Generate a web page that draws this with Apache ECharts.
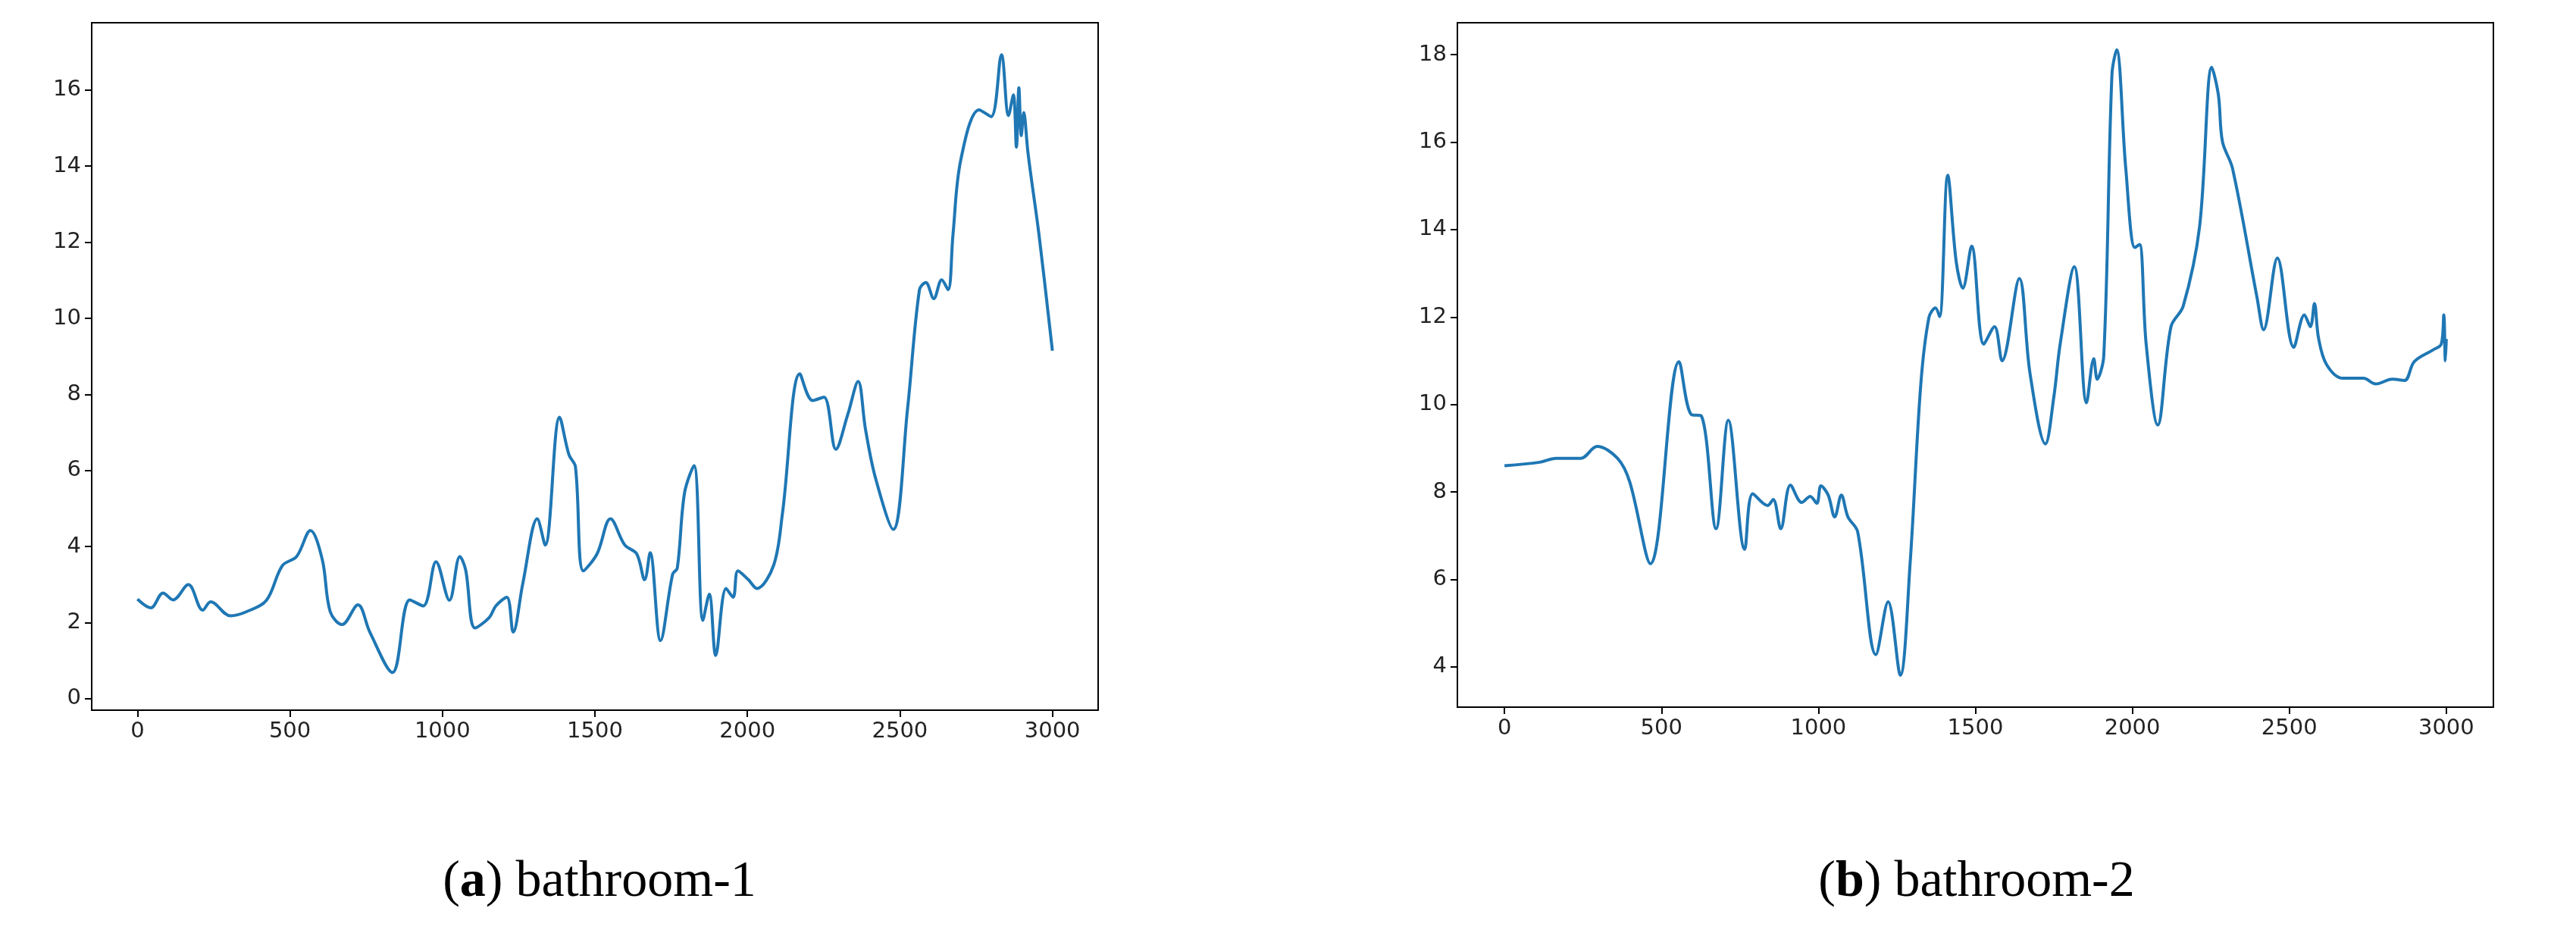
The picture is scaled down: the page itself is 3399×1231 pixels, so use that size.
<!DOCTYPE html>
<html>
<head>
<meta charset="utf-8">
<script src="https://cdn.jsdelivr.net/npm/echarts@6/dist/echarts.min.js"></script>
<style>
  html, body { margin: 0; padding: 0; background: #fff; }
  #chart { width: 3399px; height: 1231px; }
</style>
</head>
<body>
<div id="chart"></div>
<script>
// bathroom-1 readings
var x1 = [0,44,84,117,167,214,240,305,358,423,475,522,567,606,632,671,723,762,836,893,937,979,1023,1057,1076,1107,1154,1175,1211,1232,1264,1311,1337,1384,1415,1436,1462,1507,1551,1598,1637,1663,1681,1715,1755,1770,1794,1825,1854,1875,1896,1930,1953,1969,2003,2031,2086,2115,2172,2214,2251,2290,2329,2363,2387,2420,2478,2525,2564,2585,2611,2637,2658,2674,2700,2760,2799,2833,2856,2872,2882,2890,2898,2906,2919,2930,2956,3000];
var y1 = [2.62,2.39,2.78,2.6,3.0,2.33,2.55,2.18,2.29,2.59,3.5,3.74,4.42,3.66,2.29,1.95,2.47,1.75,0.69,2.6,2.44,3.6,2.59,3.74,3.39,1.86,2.14,2.44,2.67,1.75,3.05,4.73,4.04,7.4,6.41,6.1,3.36,3.81,4.73,4.04,3.81,3.13,3.84,1.53,3.28,3.43,5.42,6.13,2.06,2.75,1.14,2.9,2.67,3.36,3.13,2.9,3.51,4.88,8.54,7.84,7.93,6.56,7.47,8.34,7.09,5.8,4.45,7.62,10.75,10.94,10.52,11.01,10.75,12.2,14.18,15.48,15.3,16.93,15.33,15.87,14.5,16.06,14.8,15.41,14.42,13.73,12.2,9.15];
// bathroom-2 readings
var x2 = [0,112,164,243,295,360,399,465,556,595,627,674,713,765,791,838,856,880,911,947,974,995,1008,1031,1052,1073,1094,1125,1183,1222,1261,1292,1326,1352,1373,1386,1412,1439,1460,1488,1527,1561,1585,1640,1674,1723,1750,1770,1815,1854,1877,1888,1909,1935,1950,1979,2008,2023,2044,2081,2123,2162,2214,2253,2274,2287,2319,2397,2418,2462,2514,2548,2567,2580,2593,2619,2671,2736,2775,2828,2867,2898,2958,2984,2992,2997,3000];
var y2 = [8.6,8.68,8.77,8.77,9.04,8.77,8.23,6.36,10.98,9.77,9.74,7.16,9.64,6.69,7.96,7.69,7.83,7.16,8.16,7.76,7.9,7.74,8.14,7.93,7.43,7.93,7.43,7.09,4.28,5.49,3.81,6.36,10.45,11.99,12.21,12.01,15.24,13.26,12.66,13.62,11.38,11.78,11.0,12.88,10.71,9.1,10.18,11.38,13.15,10.04,11.05,10.58,11.12,17.55,18.11,15.4,13.59,13.66,11.38,9.53,11.78,12.25,14.06,17.71,17.08,16.01,15.4,12.45,11.71,13.35,11.31,12.05,11.78,12.31,11.52,10.91,10.6,10.6,10.47,10.58,10.55,10.98,11.25,11.38,12.05,11.0,11.5];
var captions = ['bathroom-1', 'bathroom-2'];
var xTicks = [0, 500, 1000, 1500, 2000, 2500, 3000];

function pairs(xs, ys) {
  return xs.map(function (x, i) { return [x, ys[i]]; });
}

var tickLabel = { color: '#222', fontSize: 29, fontFamily: 'DejaVu Sans', margin: 14, formatter: function (v) { return String(v); } };
function xAx(idx) {
  return {
    type: 'value', gridIndex: idx, min: -150, max: 3150,
    axisLine: { show: false, onZero: false }, splitLine: { show: false },
    axisTick: { show: true, length: 9, lineStyle: { color: '#000', width: 2 }, customValues: xTicks },
    axisLabel: Object.assign({}, tickLabel, { customValues: xTicks })
  };
}
function yAx(idx, min, max, vals) {
  return {
    type: 'value', gridIndex: idx, min: min, max: max,
    axisLine: { show: false, onZero: false }, splitLine: { show: false },
    axisTick: { show: true, length: 9, lineStyle: { color: '#000', width: 2 }, customValues: vals },
    axisLabel: Object.assign({}, tickLabel, { customValues: vals })
  };
}
function caption(letter, text, x) {
  return {
    text: '{b|(}{a|' + letter + '}{b|) ' + text + '}', left: x, top: 1125, textAlign: 'center',
    textStyle: { rich: {
      a: { fontFamily: 'Liberation Serif', fontSize: 68, fontWeight: 'bold', color: '#000' },
      b: { fontFamily: 'Liberation Serif', fontSize: 68, fontWeight: 'normal', color: '#000' } } }
  };
}

var chart = echarts.init(document.getElementById('chart'));
chart.setOption({
  backgroundColor: '#fff',
  animation: false,
  grid: [
    { left: 121, top: 30, width: 1328, height: 907, show: true, borderColor: '#000', borderWidth: 2 },
    { left: 1923, top: 30, width: 1367, height: 903, show: true, borderColor: '#000', borderWidth: 2 }
  ],
  xAxis: [xAx(0), xAx(1)],
  yAxis: [
    yAx(0, -0.3, 17.77, [0, 2, 4, 6, 8, 10, 12, 14, 16]),
    yAx(1, 3.08, 18.73, [4, 6, 8, 10, 12, 14, 16, 18])
  ],
  title: [caption('a', captions[0], 786), caption('b', captions[1], 2603)],
  series: [
    { type: 'line', xAxisIndex: 0, yAxisIndex: 0, data: pairs(x1, y1), showSymbol: false, smooth: 0.35,
      lineStyle: { color: '#1f77b4', width: 4 } },
    { type: 'line', xAxisIndex: 1, yAxisIndex: 1, data: pairs(x2, y2), showSymbol: false, smooth: 0.35,
      lineStyle: { color: '#1f77b4', width: 4 } }
  ]
});
</script>
</body>
</html>
